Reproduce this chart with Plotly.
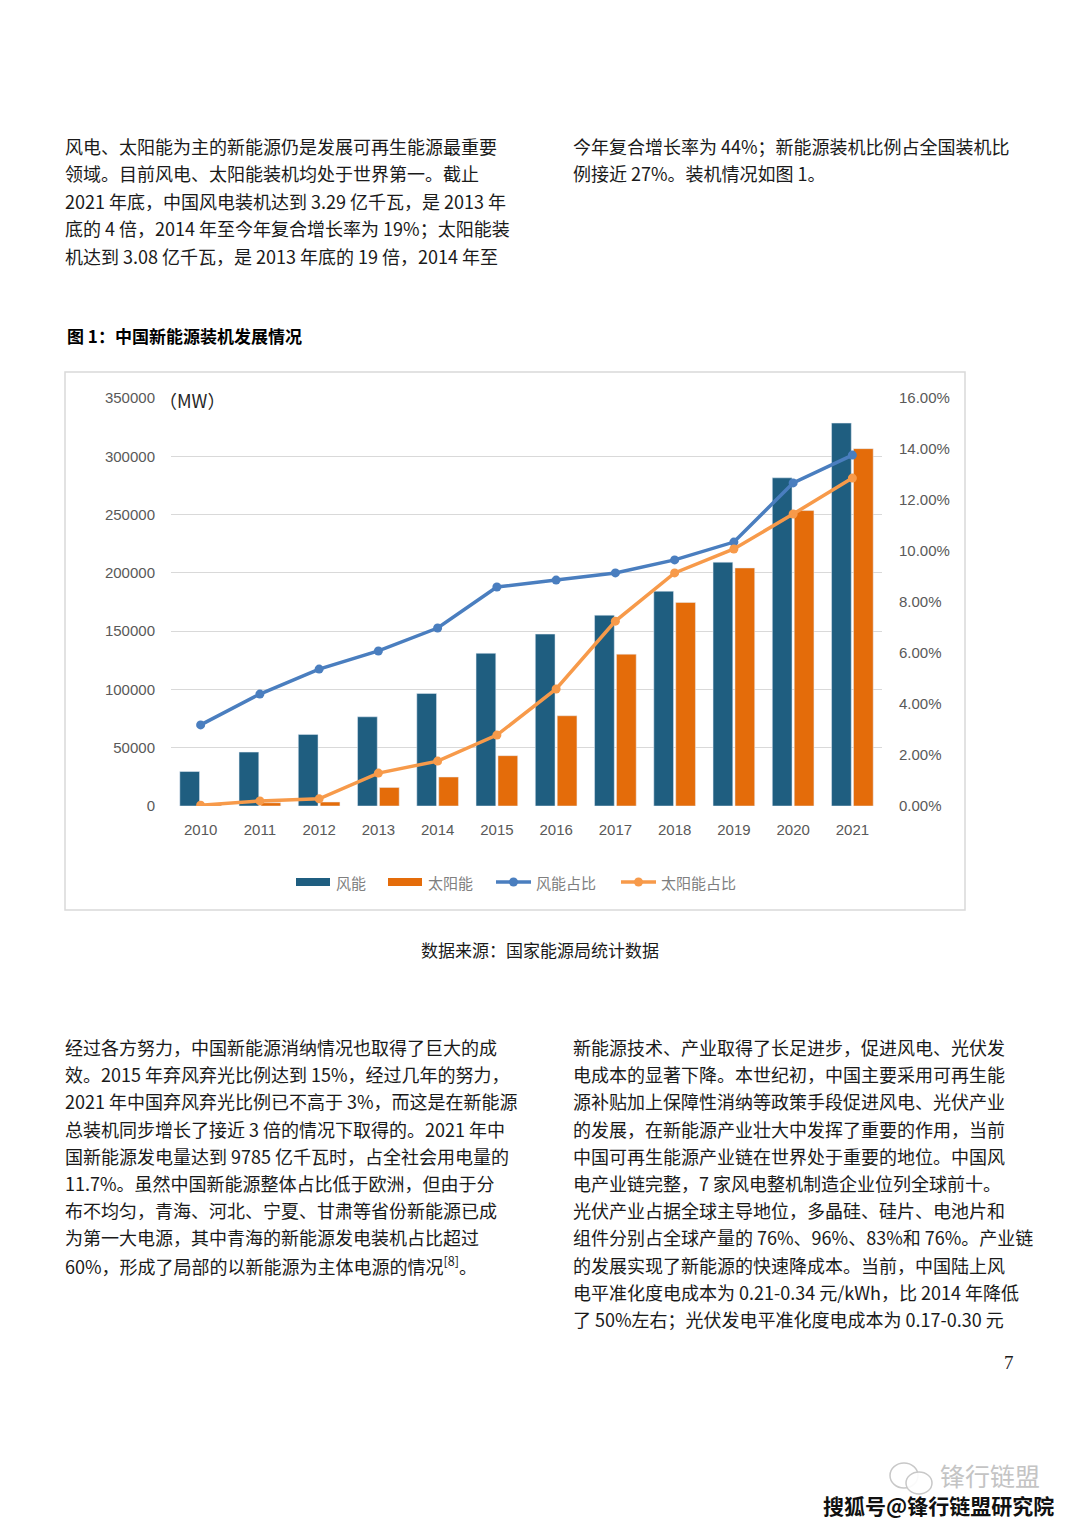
import plotly.graph_objects as go

# ---------------- data ----------------
years = ["2010", "2011", "2012", "2013", "2014", "2015", "2016", "2017", "2018", "2019", "2020", "2021"]
wind_mw = [29580, 46230, 61420, 76520, 96570, 131000, 147470, 163670, 184260, 209150, 281530, 328480]
solar_mw = [860, 2800, 3410, 15890, 24860, 43180, 77420, 130250, 174630, 204180, 253430, 306560]
wind_share = [0.0318, 0.0439, 0.0537, 0.0608, 0.0698, 0.0859, 0.0886, 0.0914, 0.0965, 0.1035, 0.1267, 0.1376]
solar_share = [0.0003, 0.0020, 0.0028, 0.0129, 0.0176, 0.0278, 0.0459, 0.0725, 0.0914, 0.1008, 0.1145, 0.1286]
left_ticks = [0, 50000, 100000, 150000, 200000, 250000, 300000, 350000]
right_ticks = [0, 0.02, 0.04, 0.06, 0.08, 0.10, 0.12, 0.14, 0.16]
legend_labels = ["风能", "太阳能", "风能占比", "太阳能占比"]

title_text = "图 1：中国新能源装机发展情况"
source_text = "数据来源：国家能源局统计数据"
top_left_lines = [
    "风电、太阳能为主的新能源仍是发展可再生能源最重要",
    "领域。目前风电、太阳能装机均处于世界第一。截止",
    "2021 年底，中国风电装机达到 3.29 亿千瓦，是 2013 年",
    "底的 4 倍，2014 年至今年复合增长率为 19%；太阳能装",
    "机达到 3.08 亿千瓦，是 2013 年底的 19 倍，2014 年至",
]
top_right_lines = [
    "今年复合增长率为 44%；新能源装机比例占全国装机比",
    "例接近 27%。装机情况如图 1。",
]
bottom_left_lines = [
    "经过各方努力，中国新能源消纳情况也取得了巨大的成",
    "效。2015 年弃风弃光比例达到 15%，经过几年的努力，",
    "2021 年中国弃风弃光比例已不高于 3%，而这是在新能源",
    "总装机同步增长了接近 3 倍的情况下取得的。2021 年中",
    "国新能源发电量达到 9785 亿千瓦时，占全社会用电量的",
    "11.7%。虽然中国新能源整体占比低于欧洲，但由于分",
    "布不均匀，青海、河北、宁夏、甘肃等省份新能源已成",
    "为第一大电源，其中青海的新能源发电装机占比超过",
    "60%，形成了局部的以新能源为主体电源的情况<sup>[8]</sup>。",
]
bottom_right_lines = [
    "新能源技术、产业取得了长足进步，促进风电、光伏发",
    "电成本的显著下降。本世纪初，中国主要采用可再生能",
    "源补贴加上保障性消纳等政策手段促进风电、光伏产业",
    "的发展，在新能源产业壮大中发挥了重要的作用，当前",
    "中国可再生能源产业链在世界处于重要的地位。中国风",
    "电产业链完整，7 家风电整机制造企业位列全球前十。",
    "光伏产业占据全球主导地位，多晶硅、硅片、电池片和",
    "组件分别占全球产量的 76%、96%、83%和 76%。产业链",
    "的发展实现了新能源的快速降成本。当前，中国陆上风",
    "电平准化度电成本为 0.21-0.34 元/kWh，比 2014 年降低",
    "了 50%左右；光伏发电平准化度电成本为 0.17-0.30 元",
]
page_number = "7"
wm_small = "锋行链盟"
wm_big = "搜狐号@锋行链盟研究院"

# ---------------- layout helpers ----------------
FW, FH = 1080, 1528
L, R, T, B = 171, 882, 398, 806
PW, PH = R - L, B - T


def px(x):
    return (x - L) / PW


def py(y):
    return (B - y) / PH


WIND_BAR = "#1f5e80"
SOLAR_BAR = "#e46c0a"
WIND_LINE = "#4a7ebf"
SOLAR_LINE = "#f79a4a"
TICK_GRAY = "#595959"
CJK = "Noto Sans CJK SC"
LAT = "Liberation Sans"

fig = go.Figure()
fig.add_trace(go.Bar(x=years, y=wind_mw, name=legend_labels[0], marker_color=WIND_BAR))
fig.add_trace(go.Bar(x=years, y=solar_mw, name=legend_labels[1], marker_color=SOLAR_BAR))
fig.add_trace(go.Scatter(x=years, y=wind_share, name=legend_labels[2], yaxis="y2",
                         mode="lines+markers", line=dict(color=WIND_LINE, width=3.5),
                         marker=dict(size=9, color=WIND_LINE)))
fig.add_trace(go.Scatter(x=years, y=solar_share, name=legend_labels[3], yaxis="y2",
                         mode="lines+markers", line=dict(color=SOLAR_LINE, width=3.5),
                         marker=dict(size=9, color=SOLAR_LINE)))

annotations = []
shapes = []

# chart frame
shapes.append(dict(type="rect", xref="paper", yref="paper", x0=px(65), x1=px(965), y0=py(372), y1=py(910),
                   line=dict(color="#d9d9d9", width=1.5), fillcolor="rgba(0,0,0,0)", layer="below"))

# (MW) unit
annotations.append(dict(x=px(157), y=py(400), xref="paper", yref="paper", text="（MW）", showarrow=False,
                        xanchor="left", yanchor="middle", font=dict(family=CJK, size=18, color="#262626")))

# custom legend
leg_y = 882
items = [(296, 330, "bar", WIND_BAR, 334), (388, 422, "bar", SOLAR_BAR, 426),
         (496, 531, "line", WIND_LINE, 534), (621, 656, "line", SOLAR_LINE, 659)]
for (x0, x1, kind, col, tx), lab in zip(items, legend_labels):
    if kind == "bar":
        shapes.append(dict(type="rect", xref="paper", yref="paper", x0=px(x0), x1=px(x1),
                           y0=py(leg_y + 4), y1=py(leg_y - 4), line=dict(width=0), fillcolor=col))
    else:
        shapes.append(dict(type="line", xref="paper", yref="paper", x0=px(x0), x1=px(x1),
                           y0=py(leg_y), y1=py(leg_y), line=dict(color=col, width=3.5)))
        cx = (x0 + x1) / 2
        shapes.append(dict(type="circle", xref="paper", yref="paper", x0=px(cx - 4.5), x1=px(cx + 4.5),
                           y0=py(leg_y + 4.5), y1=py(leg_y - 4.5), line=dict(width=0), fillcolor=col))
    annotations.append(dict(x=px(tx), y=py(leg_y), xref="paper", yref="paper", text=lab, showarrow=False,
                            xanchor="left", yanchor="middle", font=dict(family=CJK, size=15, color="#7f7f7f")))


def add_lines(lines, x0, y0, step, size=18):
    for i, t in enumerate(lines):
        annotations.append(dict(x=px(x0), y=py(y0 + i * step), xref="paper", yref="paper", text=t,
                                showarrow=False, xanchor="left", yanchor="middle",
                                font=dict(family=CJK, size=size, color="#1a1a1a")))


add_lines(top_left_lines, 63, 146, 27.5)
add_lines(top_right_lines, 571, 146, 27.5)
add_lines(bottom_left_lines, 63, 1047, 27.2)
add_lines(bottom_right_lines, 571, 1047, 27.2)

annotations.append(dict(x=px(65), y=py(335), xref="paper", yref="paper", text="<b>" + title_text + "</b>",
                        showarrow=False, xanchor="left", yanchor="middle",
                        font=dict(family=CJK, size=17, color="#000000")))
annotations.append(dict(x=px(540), y=py(949), xref="paper", yref="paper", text=source_text,
                        showarrow=False, xanchor="center", yanchor="middle",
                        font=dict(family=CJK, size=17, color="#1a1a1a")))
annotations.append(dict(x=px(1009), y=py(1362), xref="paper", yref="paper", text=page_number,
                        showarrow=False, xanchor="center", yanchor="middle",
                        font=dict(family="Liberation Serif", size=19, color="#1a1a1a")))

# watermark
shapes.append(dict(type="circle", xref="paper", yref="paper", x0=px(890), x1=px(918), y0=py(1488), y1=py(1463),
                   line=dict(color="#c8c8c8", width=1.5), fillcolor="rgba(255,255,255,0.8)"))
shapes.append(dict(type="circle", xref="paper", yref="paper", x0=px(906), x1=px(932), y0=py(1494), y1=py(1472),
                   line=dict(color="#c8c8c8", width=1.5), fillcolor="rgba(255,255,255,0.9)"))
annotations.append(dict(x=px(939), y=py(1475), xref="paper", yref="paper", text=wm_small,
                        showarrow=False, xanchor="left", yanchor="middle", borderpad=0,
                        font=dict(family=CJK, size=25, color="#c4c4c4")))
annotations.append(dict(x=px(1055), y=py(1505), xref="paper", yref="paper", text="<b>" + wm_big + "</b>",
                        showarrow=False, xanchor="right", yanchor="middle", borderpad=0,
                        font=dict(family=CJK, size=21, color="#111111")))

fig.update_layout(
    width=FW, height=FH,
    margin=dict(l=L, r=FW - R, t=T, b=FH - B, pad=0),
    paper_bgcolor="white", plot_bgcolor="white",
    barmode="group", bargap=0.26, bargroupgap=0.1,
    showlegend=False,
    xaxis=dict(type="category", range=[-0.5, len(years) - 0.5], showgrid=False, showline=False, zeroline=False,
               ticks="outside", ticklen=10, tickcolor="rgba(0,0,0,0)",
               tickfont=dict(family=LAT, size=15, color=TICK_GRAY), automargin=False),
    yaxis=dict(range=[0, 350000], tickvals=left_ticks, ticktext=[str(v) for v in left_ticks],
               showgrid=True, gridcolor="#d9d9d9", gridwidth=1.3, zeroline=False, showline=False,
               ticks="outside", ticklen=12, tickcolor="rgba(0,0,0,0)",
               tickfont=dict(family=LAT, size=15, color=TICK_GRAY), automargin=False),
    yaxis2=dict(range=[0, 0.16], tickvals=right_ticks, tickformat=".2%", overlaying="y", side="right",
                showgrid=False, zeroline=False, showline=False,
                ticks="outside", ticklen=13, tickcolor="rgba(0,0,0,0)",
                tickfont=dict(family=LAT, size=15, color=TICK_GRAY), automargin=False),
    shapes=shapes, annotations=annotations,
)

fig.write_html("out.html", config={"displayModeBar": False},
               post_script="document.body.style.margin='0px';document.body.style.padding='0px';")
